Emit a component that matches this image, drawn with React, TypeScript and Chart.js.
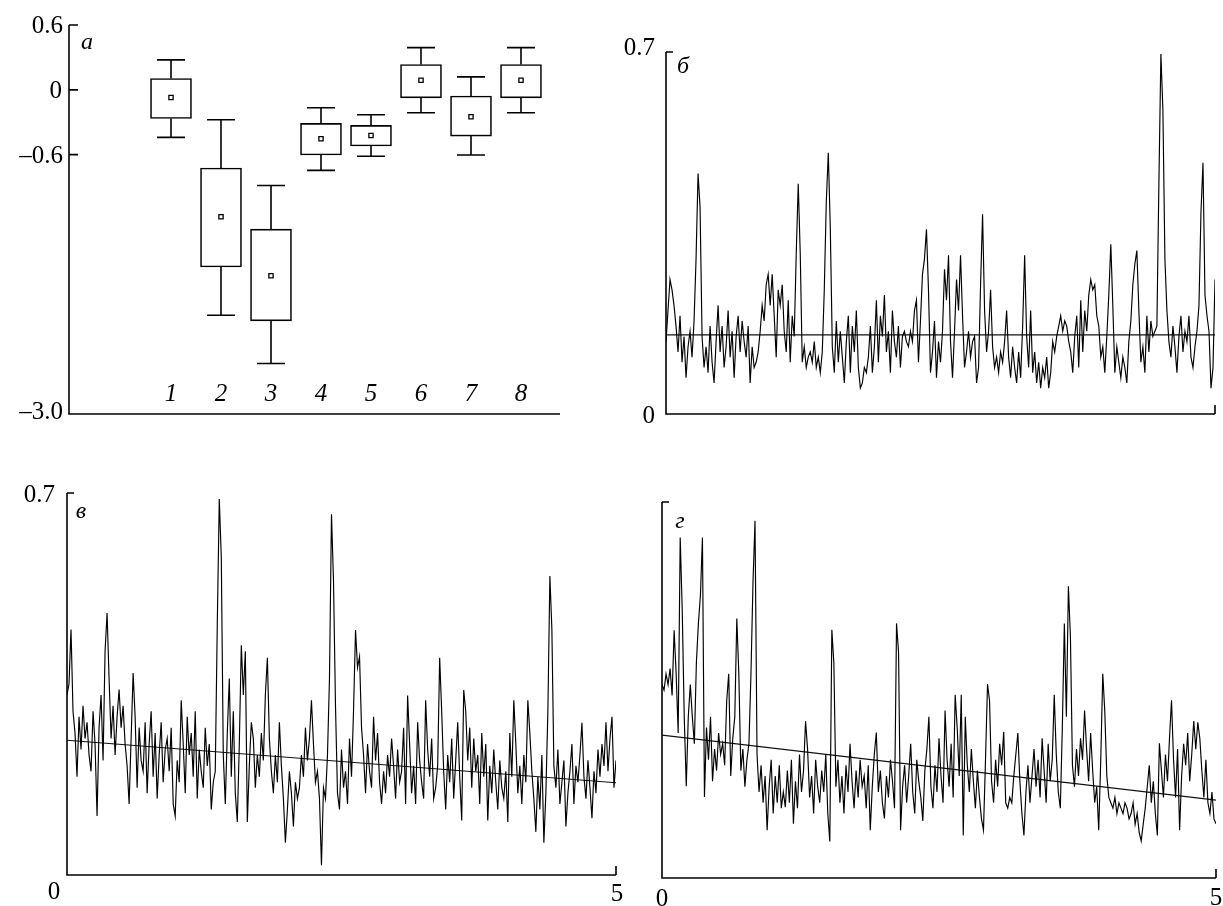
import React, { useEffect, useRef } from 'react';
import { Chart, registerables } from 'chart.js';

Chart.register(...registerables);

const W = 1223;
const H = 906;

// ---------- Panel а : box plots ----------
const boxCategories = [1, 2, 3, 4, 5, 6, 7, 8];
const boxCategoryLabels = ['1', '2', '3', '4', '5', '6', '7', '8'];
const boxWhiskerHigh = [0.277, -0.277, -0.886, -0.166, -0.231, 0.391, 0.12, 0.391];
const boxUpper = [0.105, -0.723, -1.289, -0.311, -0.329, 0.234, -0.058, 0.234];
const boxMean = [-0.071, -1.175, -1.72, -0.452, -0.422, 0.089, -0.249, 0.089];
const boxLower = [-0.265, -1.64, -2.138, -0.603, -0.52, -0.074, -0.428, -0.074];
const boxWhiskerLow = [-0.44, -2.086, -2.532, -0.745, -0.615, -0.212, -0.603, -0.212];
const boxYTicks = [0.6, 0, -0.6, -3.0];
const boxYTickLabels = ['0.6', '0', '–0.6', '–3.0'];

// ---------- Panels б, в, г : time series ----------
const seriesXTicks = [0, 5];
const seriesXTickLabels = ['0', '5'];
const seriesYTicks = [0, 0.7];
const seriesYTickLabels = ['0', '0.7'];

const seriesB = [
  .14, .20, .26, .24, .21, .17, .12, .19, .10, .15,
  .07, .13, .16, .11, .18, .30, .465, .40, .15, .09,
  .13, .08, .17, .10, .06, .14, .21, .12, .17, .09,
  .13, .20, .11, .16, .07, .15, .19, .12, .18, .14,
  .11, .17, .06, .13, .09, .10, .12, .16, .21, .18,
  .25, .27, .21, .27, .19, .11, .24, .21, .25, .16,
  .12, .22, .10, .19, .15, .31, .445, .31, .10, .13,
  .09, .11, .12, .10, .14, .09, .11, .08, .12, .24,
  .41, .505, .36, .13, .08, .18, .10, .16, .11, .06,
  .14, .19, .08, .17, .12, .20, .09, .05, .06, .09,
  .08, .11, .17, .08, .13, .22, .10, .19, .15, .23,
  .12, .16, .08, .20, .14, .11, .17, .09, .15, .16,
  .14, .13, .16, .14, .20, .22, .10, .18, .27, .30,
  .357, .24, .08, .12, .18, .07, .14, .10, .16, .28,
  .22, .307, .14, .07, .16, .26, .20, .307, .19, .09,
  .12, .16, .11, .14, .15, .06, .09, .25, .386, .20,
  .12, .16, .24, .13, .09, .11, .08, .12, .10, .14,
  .20, .11, .07, .13, .09, .06, .12, .07, .17, .307,
  .15, .09, .20, .08, .12, .06, .10, .05, .09, .07,
  .11, .05, .08, .14, .12, .15, .17, .19, .16, .18,
  .17, .14, .12, .08, .15, .19, .09, .22, .12, .20,
  .16, .23, .26, .24, .25, .19, .17, .11, .13, .08,
  .15, .23, .328, .21, .08, .13, .10, .07, .11, .09,
  .06, .14, .18, .25, .29, .316, .20, .10, .13, .08,
  .19, .12, .18, .15, .16, .17, .447, .696, .588, .30,
  .20, .14, .11, .17, .13, .08, .15, .19, .12, .16,
  .14, .19, .11, .09, .13, .16, .21, .39, .486, .23,
  .19, .16, .05, .09, .26,
];
const meanB = 0.153;

const seriesV = [
  .33, .35, .45, .30, .26, .18, .29, .23, .31, .25,
  .28, .22, .19, .30, .24, .108, .27, .33, .21, .41,
  .48, .36, .25, .31, .22, .29, .34, .27, .31, .24,
  .20, .13, .25, .37, .29, .16, .27, .21, .19, .28,
  .15, .24, .30, .18, .26, .14, .22, .28, .17, .23,
  .25, .19, .27, .13, .108, .21, .17, .32, .24, .15,
  .29, .22, .26, .18, .30, .14, .23, .19, .16, .27,
  .20, .24, .12, .17, .19, .458, .689, .583, .22, .13,
  .26, .36, .18, .30, .15, .097, .24, .421, .33, .41,
  .097, .20, .28, .25, .16, .22, .18, .26, .21, .33,
  .398, .25, .19, .15, .22, .17, .28, .20, .14, .059,
  .12, .19, .15, .089, .17, .14, .16, .22, .18, .27,
  .21, .25, .32, .24, .17, .19, .14, .018, .16, .14,
  .22, .36, .661, .54, .31, .15, .12, .23, .16, .19,
  .13, .25, .18, .30, .449, .38, .40, .27, .22, .15,
  .24, .19, .16, .29, .21, .26, .17, .13, .19, .15,
  .22, .18, .25, .20, .14, .23, .17, .19, .27, .13,
  .329, .24, .15, .20, .13, .28, .21, .17, .14, .32,
  .23, .18, .25, .14, .16, .20, .398, .30, .19, .12,
  .22, .17, .25, .14, .21, .28, .18, .10, .339, .30,
  .21, .27, .16, .25, .19, .22, .13, .26, .18, .24,
  .10, .20, .15, .23, .17, .12, .21, .16, .14, .19,
  .097, .26, .18, .32, .24, .15, .20, .13, .22, .17,
  .32, .26, .19, .14, .079, .18, .12, .22, .059, .15,
  .30, .548, .45, .20, .16, .23, .13, .17, .21, .089,
  .15, .19, .24, .13, .20, .17, .22, .279, .18, .14,
  .21, .16, .104, .19, .15, .23, .18, .24, .20, .28,
  .19, .25, .29, .16, .21,
];
const trendV = [0.247, 0.169];

const seriesG = [
  .36, .35, .38, .36, .39, .34, .461, .38, .27, .634,
  .50, .30, .171, .30, .36, .30, .25, .40, .474, .526,
  .634, .151, .28, .22, .30, .18, .24, .20, .27, .23,
  .25, .21, .33, .38, .19, .26, .30, .483, .38, .20,
  .24, .17, .22, .25, .38, .549, .665, .23, .16, .21,
  .14, .19, .089, .17, .22, .12, .19, .14, .21, .13,
  .16, .132, .20, .14, .22, .101, .18, .13, .23, .16,
  .20, .292, .24, .15, .19, .12, .22, .17, .14, .20,
  .16, .23, .12, .068, .462, .40, .17, .22, .14, .19,
  .12, .21, .16, .25, .18, .13, .20, .15, .22, .17,
  .19, .13, .21, .089, .17, .23, .271, .16, .20, .14,
  .111, .19, .15, .22, .18, .13, .474, .42, .089, .17,
  .21, .14, .19, .25, .16, .12, .22, .18, .15, .106,
  .20, .24, .30, .17, .13, .21, .16, .26, .19, .14,
  .312, .22, .17, .25, .15, .341, .28, .19, .341, .079,
  .30, .21, .16, .24, .18, .13, .20, .15, .11, .089,
  .22, .361, .33, .18, .14, .22, .17, .25, .21, .272,
  .14, .13, .15, .14, .19, .23, .27, .18, .12, .079,
  .16, .21, .14, .19, .24, .17, .22, .15, .26, .20,
  .14, .25, .18, .22, .341, .23, .16, .13, .28, .474,
  .30, .543, .449, .21, .17, .24, .19, .26, .22, .312,
  .24, .18, .27, .20, .14, .17, .089, .22, .38, .31,
  .19, .15, .14, .13, .15, .12, .14, .13, .12, .14,
  .13, .11, .12, .14, .10, .12, .085, .069, .10, .13,
  .17, .21, .14, .18, .12, .079, .251, .20, .15, .23,
  .18, .26, .331, .22, .15, .24, .089, .19, .25, .21,
  .27, .18, .23, .292, .24, .29, .26, .20, .15, .22,
  .14, .12, .16, .11, .101,
];
const trendG = [0.266, 0.145];

// ---------- layout (pixel placement of each panel's plot area) ----------
const AREA = {
  a: { left: 69, top: 25, right: 560, bottom: 414 },
  b: { left: 666, top: 52, right: 1215, bottom: 414 },
  v: { left: 67, top: 493, right: 616, bottom: 875 },
  g: { left: 662, top: 502, right: 1216, bottom: 878 },
};
const FONT = '25px "Liberation Serif", "Times New Roman", serif';
const IFONT = 'italic 25px "Liberation Serif", "Times New Roman", serif';

function padOf(a: { left: number; top: number; right: number; bottom: number }) {
  return { left: a.left, top: a.top, right: W - a.right, bottom: H - a.bottom };
}

function seriesPoints(values: number[]) {
  const n = values.length;
  const x0 = seriesXTicks[0];
  const x1 = seriesXTicks[1];
  return values.map((v, i) => ({ x: x0 + ((x1 - x0) * i) / (n - 1), y: v }));
}

type LabelSpec = { text: string; value: number; dx: number; dy: number; align: CanvasTextAlign };

type AxisCfg = {
  id: string;
  innerTicks: number[];
  tickLen: number;
  endTick: boolean;
  yLabels: LabelSpec[];
  xLabels: LabelSpec[];
  letter: string;
  letterDx: number;
  letterDy: number;
  cats?: { values: number[]; labels: string[]; dy: number };
};

function axesPlugin(cfg: AxisCfg) {
  return {
    id: 'axes_' + cfg.id,
    afterDraw(chart: any) {
      const ctx = chart.ctx as CanvasRenderingContext2D;
      const xs = chart.scales.x;
      const ys = chart.scales.y;
      const xL = xs.getPixelForValue(xs.min);
      const xR = xs.getPixelForValue(xs.max);
      const yB = ys.getPixelForValue(ys.min);
      const yT = ys.getPixelForValue(ys.max);
      ctx.save();
      ctx.strokeStyle = '#000';
      ctx.lineWidth = 1.6;
      ctx.lineCap = 'butt';
      ctx.beginPath();
      ctx.moveTo(xL, yT);
      ctx.lineTo(xL, yB);
      ctx.lineTo(xR, yB);
      cfg.innerTicks.forEach((v) => {
        const p = ys.getPixelForValue(v);
        ctx.moveTo(xL, p);
        ctx.lineTo(xL + cfg.tickLen, p);
      });
      if (cfg.endTick) {
        ctx.moveTo(xR, yB);
        ctx.lineTo(xR, yB - 9);
      }
      ctx.stroke();

      ctx.fillStyle = '#000';
      ctx.textBaseline = 'alphabetic';
      ctx.font = FONT;
      cfg.yLabels.forEach((l) => {
        if (!l.text) return;
        ctx.textAlign = l.align;
        ctx.fillText(l.text, xL + l.dx, ys.getPixelForValue(l.value) + l.dy);
      });
      cfg.xLabels.forEach((l) => {
        if (!l.text) return;
        ctx.textAlign = l.align;
        ctx.fillText(l.text, xs.getPixelForValue(l.value) + l.dx, yB + l.dy);
      });
      ctx.font = IFONT;
      if (cfg.cats) {
        ctx.textAlign = 'center';
        cfg.cats.values.forEach((v, i) => {
          ctx.fillText(cfg.cats!.labels[i], xs.getPixelForValue(v), yB + cfg.cats!.dy);
        });
      }
      ctx.textAlign = 'center';
      ctx.font = 'italic 24px "Liberation Serif", "Times New Roman", serif';
      ctx.fillText(cfg.letter, xL + cfg.letterDx, yT + cfg.letterDy);
      ctx.restore();
    },
  };
}

const whiskerPlugin = {
  id: 'whiskers',
  afterDatasetsDraw(chart: any) {
    const ctx = chart.ctx as CanvasRenderingContext2D;
    const xs = chart.scales.x;
    const ys = chart.scales.y;
    ctx.save();
    ctx.strokeStyle = '#000';
    ctx.lineWidth = 1.6;
    ctx.beginPath();
    boxCategories.forEach((c, i) => {
      const px = xs.getPixelForValue(c);
      const hi = ys.getPixelForValue(boxWhiskerHigh[i]);
      const up = ys.getPixelForValue(boxUpper[i]);
      const lo = ys.getPixelForValue(boxWhiskerLow[i]);
      const dn = ys.getPixelForValue(boxLower[i]);
      ctx.moveTo(px, up);
      ctx.lineTo(px, hi);
      ctx.moveTo(px - 14, hi);
      ctx.lineTo(px + 14, hi);
      ctx.moveTo(px, dn);
      ctx.lineTo(px, lo);
      ctx.moveTo(px - 14, lo);
      ctx.lineTo(px + 14, lo);
    });
    ctx.stroke();
    ctx.restore();
  },
};

const baseOptions = (area: any) => ({
  responsive: false,
  maintainAspectRatio: false,
  devicePixelRatio: 1,
  animation: false as const,
  events: [] as any[],
  layout: { padding: padOf(area) },
  plugins: { legend: { display: false }, tooltip: { enabled: false } },
});

function lineStyle(color = '#000', width = 1) {
  return {
    borderColor: color,
    borderWidth: width,
    pointRadius: 0,
    tension: 0,
    fill: false,
  };
}

function seriesChartConfig(values: number[], trend: number[], area: any, axis: AxisCfg) {
  return {
    type: 'line' as const,
    data: {
      datasets: [
        { data: seriesPoints(values), ...lineStyle('#000', 1.15) },
        {
          data: [
            { x: seriesXTicks[0], y: trend[0] },
            { x: seriesXTicks[1], y: trend[1] },
          ],
          ...lineStyle('#111', 1.1),
        },
      ],
    },
    options: {
      ...baseOptions(area),
      scales: {
        x: { type: 'linear' as const, min: seriesXTicks[0], max: seriesXTicks[1], display: false },
        y: { type: 'linear' as const, min: seriesYTicks[0], max: seriesYTicks[1], display: false },
      },
    },
    plugins: [axesPlugin(axis)],
  };
}

const canvasStyle: React.CSSProperties = { position: 'absolute', left: 0, top: 0, width: W, height: H };

export default function App() {
  const refA = useRef<HTMLCanvasElement>(null);
  const refB = useRef<HTMLCanvasElement>(null);
  const refV = useRef<HTMLCanvasElement>(null);
  const refG = useRef<HTMLCanvasElement>(null);

  useEffect(() => {
    const charts: Chart[] = [];

    // Panel а
    charts.push(
      new Chart(refA.current!, {
        type: 'bar',
        data: {
          datasets: [
            {
              type: 'bar',
              data: boxCategories.map((c, i) => ({ x: c, y: [boxLower[i], boxUpper[i]] })) as any,
              backgroundColor: '#fff',
              borderColor: '#000',
              borderWidth: 1.6,
              borderSkipped: false,
              barThickness: 41,
              order: 2,
            } as any,
            {
              type: 'scatter',
              data: boxCategories.map((c, i) => ({ x: c, y: boxMean[i] })),
              pointStyle: 'rect',
              pointRadius: 3,
              pointBackgroundColor: '#fff',
              pointBorderColor: '#000',
              pointBorderWidth: 1.3,
              order: 1,
            } as any,
          ],
        },
        options: {
          ...baseOptions(AREA.a),
          scales: {
            x: { type: 'linear', min: -1.04, max: 8.78, offset: false, display: false },
            y: { type: 'linear', min: boxYTicks[3], max: boxYTicks[0], display: false },
          },
        } as any,
        plugins: [
          whiskerPlugin,
          axesPlugin({
            id: 'a',
            innerTicks: [boxYTicks[0], boxYTicks[1], boxYTicks[2]],
            tickLen: 9,
            endTick: false,
            yLabels: [
              { text: boxYTickLabels[0], value: boxYTicks[0], dx: -6, dy: 8, align: 'right' },
              { text: boxYTickLabels[1], value: boxYTicks[1], dx: -7, dy: 8, align: 'right' },
              { text: boxYTickLabels[2], value: boxYTicks[2], dx: -6, dy: 8, align: 'right' },
              { text: boxYTickLabels[3], value: boxYTicks[3], dx: -6, dy: 5, align: 'right' },
            ],
            xLabels: [],
            letter: 'а',
            letterDx: 18,
            letterDy: 24,
            cats: { values: boxCategories, labels: boxCategoryLabels, dy: -13 },
          }),
        ],
      } as any)
    );

    // Panel б
    charts.push(
      new Chart(
        refB.current!,
        seriesChartConfig(
          seriesB,
          [meanB, meanB],
          AREA.b,
          {
            id: 'b',
            innerTicks: [seriesYTicks[1]],
            tickLen: 7,
            endTick: true,
            yLabels: [
              { text: seriesYTickLabels[0], value: seriesYTicks[0], dx: -11, dy: 9, align: 'right' },
              { text: seriesYTickLabels[1], value: seriesYTicks[1], dx: -11, dy: 3, align: 'right' },
            ],
            xLabels: [],
            letter: 'б',
            letterDx: 17,
            letterDy: 21,
          }
        ) as any
      )
    );

    // Panel в
    charts.push(
      new Chart(
        refV.current!,
        seriesChartConfig(seriesV, trendV, AREA.v, {
          id: 'v',
          innerTicks: [seriesYTicks[1]],
          tickLen: 7,
          endTick: true,
          yLabels: [{ text: seriesYTickLabels[1], value: seriesYTicks[1], dx: -12, dy: 9, align: 'right' }],
          xLabels: [
            { text: seriesXTickLabels[0], value: seriesXTicks[0], dx: -13, dy: 24, align: 'center' },
            { text: seriesXTickLabels[1], value: seriesXTicks[1], dx: 1, dy: 26, align: 'center' },
          ],
          letter: 'в',
          letterDx: 14,
          letterDy: 25,
        }) as any
      )
    );

    // Panel г
    charts.push(
      new Chart(
        refG.current!,
        seriesChartConfig(seriesG, trendG, AREA.g, {
          id: 'g',
          innerTicks: [seriesYTicks[1]],
          tickLen: 7,
          endTick: true,
          yLabels: [],
          xLabels: [
            { text: seriesXTickLabels[0], value: seriesXTicks[0], dx: 0, dy: 28, align: 'center' },
            { text: seriesXTickLabels[1], value: seriesXTicks[1], dx: 0, dy: 27, align: 'center' },
          ],
          letter: 'г',
          letterDx: 18,
          letterDy: 26,
        }) as any
      )
    );

    return () => {
      charts.forEach((c) => c.destroy());
    };
  }, []);

  return (
    <div style={{ position: 'fixed', left: 0, top: 0, width: W, height: H, background: '#fff', overflow: 'hidden' }}>
      <canvas ref={refA} width={W} height={H} style={canvasStyle} />
      <canvas ref={refB} width={W} height={H} style={canvasStyle} />
      <canvas ref={refV} width={W} height={H} style={canvasStyle} />
      <canvas ref={refG} width={W} height={H} style={canvasStyle} />
    </div>
  );
}
